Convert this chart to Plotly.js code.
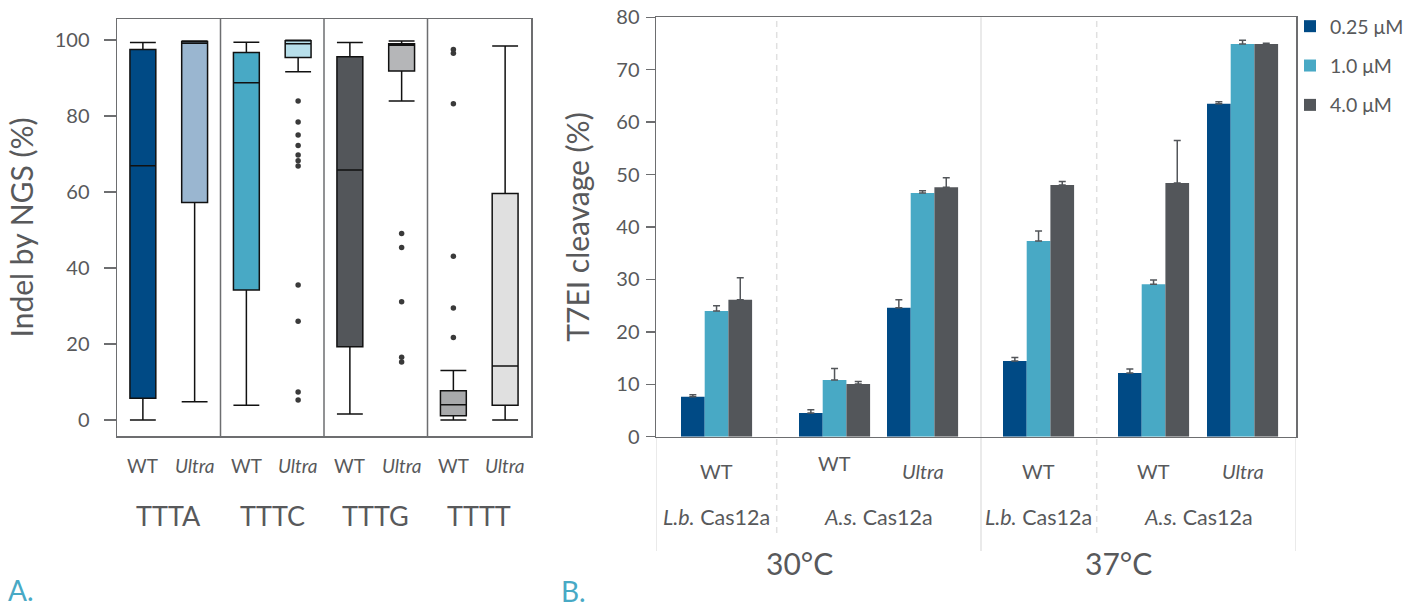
<!DOCTYPE html>
<html>
<head>
<meta charset="utf-8">
<script src="https://cdn.plot.ly/plotly-3.0.1.min.js"></script>
<style>html,body{margin:0;padding:0;background:#fff;}#chart{width:1420px;height:608px;}</style>
</head>
<body>
<div id="chart"></div>
<script>
// ---------- Panel A data (box plots, Indel by NGS %) ----------
const pamGroups = ['TTTA', 'TTTC', 'TTTG', 'TTTT'];
const variants = ['WT', 'Ultra'];
const boxLower  = [0.0, 4.8, 3.9, 91.6, 1.6, 83.9, 0.0, 0.0];
const boxQ1     = [5.7, 57.2, 34.2, 95.4, 19.3, 91.8, 1.1, 3.9];
const boxMedian = [66.9, 99.1, 88.7, 99.0, 65.8, 98.6, 4.0, 14.2];
const boxQ3     = [97.5, 99.6, 96.7, 99.8, 95.6, 99.0, 7.7, 59.6];
const boxUpper  = [99.3, 99.7, 99.4, 99.9, 99.3, 99.7, 13.0, 98.4];
const outliersTTTCUltra = [83.9, 78.4, 75.0, 72.2, 69.7, 68.2, 66.8, 35.5, 26.0, 7.4, 5.3];
const outliersTTTGUltra = [49.1, 45.4, 31.1, 16.5, 15.3];
const outliersTTTTWT    = [97.5, 96.5, 83.2, 43.1, 29.5, 21.7];

// ---------- Panel B data (bars, T7EI cleavage %) ----------
const barGroups = ['WT', 'WT', 'Ultra', 'WT', 'WT', 'Ultra'];
const enzymes = ['L.b. Cas12a', 'A.s. Cas12a', 'L.b. Cas12a', 'A.s. Cas12a'];
const temperatures = ['30°C', '37°C'];
const concentrations = ['0.25 μM', '1.0 μM', '4.0 μM'];
const val025 = [7.6, 4.5, 24.6, 14.45, 12.15, 63.5];
const err025 = [0.4, 0.65, 1.5, 0.65, 0.75, 0.4];
const val10  = [24.0, 10.8, 46.5, 37.35, 29.1, 74.9];
const err10  = [1.0, 2.2, 0.4, 1.9, 0.8, 0.7];
const val40  = [26.1, 10.06, 47.6, 48.0, 48.4, 74.9];
const err40  = [4.2, 0.45, 1.8, 0.7, 8.1, 0.15];

// ---------- layout helpers (positions / styles) ----------
const W = 1420, H = 608;
const px = x => x / W;
const py = y => 1 - y / H;
const FONT = 'Lato, "Open Sans", "DejaVu Sans", sans-serif';
const TXT = '#58595b';
const FRAME = '#6d6e70';
const boxColors = ['#004a85', '#9ab6d0', '#48a9c5', '#b7dfea', '#53565a', '#b5b6b8', '#a8a9ab', '#e0e0e0'];
const barColors = ['#004a85', '#48a9c5', '#53565a'];
const groupPos = [0.605, 1.785, 2.665, 3.825, 4.975, 5.865]; // x2 units (1 unit = 100 px)
const barW = 0.237;

const traces = [];
// boxes
for (let i = 0; i < boxQ1.length; i++) {
  traces.push({
    type: 'box', xaxis: 'x', yaxis: 'y',
    x: [i], q1: [boxQ1[i]], median: [boxMedian[i]], q3: [boxQ3[i]],
    lowerfence: [boxLower[i]], upperfence: [boxUpper[i]],
    width: 0.5, whiskerwidth: 1, boxpoints: false,
    fillcolor: boxColors[i], line: {color: '#111', width: 1.5},
    showlegend: false, hoverinfo: 'skip'
  });
}
// outliers
const outSets = [[3, outliersTTTCUltra], [5, outliersTTTGUltra], [6, outliersTTTTWT]];
outSets.forEach(([pos, arr]) => {
  traces.push({
    type: 'scatter', mode: 'markers', xaxis: 'x', yaxis: 'y',
    x: arr.map(() => pos), y: arr,
    marker: {color: '#3a3a3a', size: 5.5},
    showlegend: false, hoverinfo: 'skip'
  });
});
// bars
const vals = [val025, val10, val40];
const errs = [err025, err10, err40];
for (let k = 0; k < 3; k++) {
  traces.push({
    type: 'bar', xaxis: 'x2', yaxis: 'y2',
    name: concentrations[k], legendgroup: 'g' + k,
    x: groupPos, y: vals[k],
    width: barW, offset: -0.355 + k * barW,
    marker: {color: barColors[k], line: {width: 0}},
    error_y: {type: 'data', symmetric: false, array: errs[k], arrayminus: errs[k].map(() => 0),
              color: '#53565a', thickness: 1.5, width: 3.5},
    hoverinfo: 'skip'
  });
}

const shapes = [];
// Panel A dividers
[1.5, 3.5, 5.5].forEach(x => shapes.push({type: 'line', xref: 'x', yref: 'y domain', x0: x, x1: x, y0: 0, y1: 1,
  line: {color: FRAME, width: 1.5}}));
// Panel B solid light dividers (extend below the axis)
[0, 3.25, 6.4].forEach(x => shapes.push({type: 'line', xref: 'x2', yref: 'paper', x0: x, x1: x,
  y0: py(551), y1: x === 3.25 ? py(17.3) : py(437.5), line: {color: '#e3e3e3', width: 1.5}, layer: 'below'}));
// Panel B dashed dividers
[1.207, 4.407].forEach(x => shapes.push({type: 'line', xref: 'x2', yref: 'paper', x0: x, x1: x,
  y0: py(533), y1: py(17.3), line: {color: '#e0e0e0', width: 1.5, dash: '6px,5px'}, layer: 'below'}));

const ann = [];
function addAnn(text, xref, x, ypx, size, color, extra) {
  ann.push(Object.assign({text: text, xref: xref, x: x, yref: 'paper', y: py(ypx), showarrow: false,
    xanchor: 'center', yanchor: 'middle', font: {family: FONT, size: size, color: color || TXT}}, extra || {}));
}
// Panel A labels
for (let i = 0; i < 8; i++) {
  const v = variants[i % 2];
  addAnn(v === 'Ultra' ? '<i>Ultra</i>' : v, 'x', i, 465, 19);
}
pamGroups.forEach((g, j) => addAnn(g, 'x', 2 * j + 0.5, 515, 27));
addAnn('A.', 'paper', px(6), 590, 28, '#48a9c5', {xanchor: 'left'});
// Panel B labels
const row1Y = [470.5, 463, 470.5, 470.5, 470.5, 470.5];
barGroups.forEach((g, i) => addAnn(g === 'Ultra' ? '<i>Ultra</i>' : g, 'x2', groupPos[i], row1Y[i], 20));
const enzPos = [groupPos[0], (groupPos[1] + groupPos[2]) / 2, groupPos[3], (groupPos[4] + groupPos[5]) / 2];
enzymes.forEach((e, i) => {
  const parts = e.split(' ');
  addAnn('<i>' + parts[0] + '</i> ' + parts[1], 'x2', enzPos[i], 516.5, 21.5);
});
addAnn(temperatures[0], 'x2', 1.43, 563, 30);
addAnn(temperatures[1], 'x2', 4.62, 563, 30);
addAnn('B.', 'paper', px(559), 591, 28, '#48a9c5', {xanchor: 'left'});

const layout = {
  width: W, height: H,
  margin: {l: 0, r: 0, t: 0, b: 0},
  paper_bgcolor: '#fff', plot_bgcolor: 'rgba(0,0,0,0)',
  font: {family: FONT, color: TXT},
  showlegend: true,
  barmode: 'overlay',
  legend: {x: px(1290), y: py(7), xanchor: 'left', yanchor: 'top', bgcolor: 'rgba(0,0,0,0)',
           font: {family: FONT, size: 19.5, color: TXT}, tracegroupgap: 11, traceorder: 'grouped', itemwidth: 30},
  xaxis: {domain: [px(117), px(531)], range: [-0.5, 7.5], showline: true, mirror: true, linecolor: FRAME,
          linewidth: 1.5, showticklabels: false, ticks: '', showgrid: false, zeroline: false, fixedrange: true},
  yaxis: {domain: [py(436), py(19)], range: [-4.2, 105.5], tickvals: [0, 20, 40, 60, 80, 100],
          ticks: 'outside', ticklen: 12, tickwidth: 1.5, tickcolor: FRAME, showline: true, mirror: true,
          linecolor: FRAME, linewidth: 1.5, showgrid: false, zeroline: false, ticklabelstandoff: 10,
          tickfont: {family: FONT, size: 20, color: TXT},
          title: {text: 'Indel by NGS (%)', font: {family: FONT, size: 30, color: TXT}, standoff: 12}},
  xaxis2: {anchor: 'y2', domain: [px(656), px(1296)], range: [0, 6.4], showline: true, mirror: true,
           linecolor: FRAME, linewidth: 1.5, showticklabels: false, ticks: '', showgrid: false, zeroline: false},
  yaxis2: {anchor: 'x2', domain: [py(436.7), py(17.3)], range: [0, 80], dtick: 10,
           ticks: 'outside', ticklen: 9, tickwidth: 1.5, tickcolor: FRAME, showline: true, mirror: true,
           linecolor: FRAME, linewidth: 1.5, showgrid: false, zeroline: false, ticklabelstandoff: 2,
           tickfont: {family: FONT, size: 20, color: TXT},
           title: {text: 'T7EI cleavage (%)', font: {family: FONT, size: 30, color: TXT}, standoff: 18}},
  shapes: shapes,
  annotations: ann
};

Plotly.newPlot('chart', traces, layout, {staticPlot: true, displayModeBar: false});
</script>
</body>
</html>
